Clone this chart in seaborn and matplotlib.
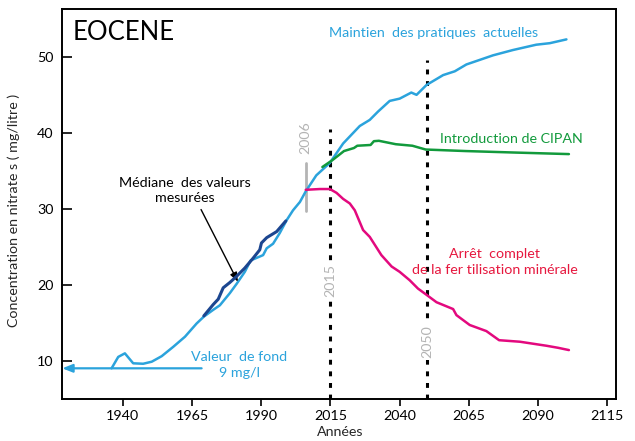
import matplotlib
matplotlib.use("Agg")
import matplotlib.pyplot as plt
import seaborn as sns
import pandas as pd

# Scenario curves: years and nitrate concentrations (mg/l)
years_current = [1936.0, 1938.4, 1940.8, 1943.8, 1947.4, 1950.5, 1954.1, 1958.3, 1962.5,
                 1966.7, 1969.3, 1972.7, 1975.1, 1978.7, 1981.1, 1984.1, 1986.2, 1990.7,
                 1992.0, 1994.3, 1996.7, 1999.2, 2001.5, 2004.0, 2006.1, 2009.9, 2014.7,
                 2019.6, 2025.6, 2029.2, 2032.2, 2036.4, 2040.0, 2044.2, 2046.1, 2049.7,
                 2055.7, 2059.9, 2064.1, 2073.7, 2080.9, 2089.3, 2094.2, 2100.2]
conc_current = [9.0, 10.5, 10.97, 9.66, 9.6, 9.87, 10.6, 11.84, 13.16,
                14.9, 15.8, 16.7, 17.3, 18.9, 20.1, 21.7, 23.2, 23.9,
                24.8, 25.4, 26.8, 28.5, 29.8, 30.9, 32.3, 34.4, 36.0,
                38.6, 40.9, 41.7, 42.8, 44.2, 44.5, 45.3, 45.0, 46.3,
                47.6, 48.1, 49.0, 50.2, 50.9, 51.6, 51.8, 52.3]

years_median = [1969.3, 1972.7, 1974.5, 1976.3, 1978.7, 1981.1, 1984.1, 1987.1,
                1989.5, 1990.1, 1992.0, 1995.6, 1998.9]
conc_median = [15.9, 17.4, 18.1, 19.6, 20.3, 21.1, 22.2, 23.5,
               24.6, 25.5, 26.2, 27.0, 28.4]

years_cipan = [2012.1, 2015.7, 2019.9, 2023.5, 2024.7, 2029.5, 2030.7, 2032.5,
               2038.6, 2044.6, 2049.4, 2063.8, 2081.9, 2101.1]
conc_cipan = [35.5, 36.4, 37.6, 38.0, 38.3, 38.4, 38.9, 38.95,
              38.5, 38.3, 37.8, 37.6, 37.4, 37.2]

years_stop = [2006.1, 2011.2, 2014.8, 2017.2, 2019.6, 2022.0, 2023.8, 2026.8, 2029.2,
              2033.4, 2037.1, 2040.0, 2043.6, 2046.6, 2049.6, 2053.3, 2059.3, 2060.5,
              2065.3, 2071.3, 2075.9, 2083.4, 2093.0, 2097.2, 2101.1]
conc_stop = [32.5, 32.6, 32.6, 32.1, 31.3, 30.7, 29.8, 27.2, 26.3,
             23.9, 22.4, 21.7, 20.6, 19.5, 18.7, 17.7, 16.8, 16.0,
             14.7, 13.9, 12.7, 12.5, 11.97, 11.7, 11.4]

background_value = 9
marker_years = [2015, 2050]
x_ticks = [1940, 1965, 1990, 2015, 2040, 2065, 2090, 2115]
y_ticks = [10, 20, 30, 40, 50]

C_BLUE = "#2ba3dc"
C_DARK = "#1c4690"
C_GREEN = "#129a3c"
C_MAGENTA = "#e3097e"
C_RED = "#e6183f"
C_GRAY = "#b4b4b4"

FS = 10.3

sns.set_theme(style="ticks")
plt.rcParams["font.family"] = ["Lato", "DejaVu Sans"]

fig = plt.figure(figsize=(6.35, 4.41), dpi=100)
ax = fig.add_axes([62 / 635, 1 - 399 / 441, (616 - 62) / 635, (399 - 9) / 441])

frames = {
    "current": pd.DataFrame({"year": years_current, "conc": conc_current}),
    "median": pd.DataFrame({"year": years_median, "conc": conc_median}),
    "cipan": pd.DataFrame({"year": years_cipan, "conc": conc_cipan}),
    "stop": pd.DataFrame({"year": years_stop, "conc": conc_stop}),
}

# vertical reference lines at 2015 and 2050
ax.plot([marker_years[0]] * 2, [5, 40.5], color="black", lw=2.2, ls=(0, (1.6, 2.2)), zorder=1)
ax.plot([marker_years[1]] * 2, [5, 49.6], color="black", lw=2.2, ls=(0, (1.6, 2.2)), zorder=1)
# 2006 marker
ax.plot([2006.1, 2006.1], [29.7, 36.0], color=C_GRAY, lw=2.0, zorder=1)

sns.lineplot(data=frames["current"], x="year", y="conc", ax=ax, color=C_BLUE, lw=1.8,
             sort=False, estimator=None, zorder=3)
sns.lineplot(data=frames["median"], x="year", y="conc", ax=ax, color=C_DARK, lw=2.2,
             sort=False, estimator=None, zorder=4)
sns.lineplot(data=frames["cipan"], x="year", y="conc", ax=ax, color=C_GREEN, lw=1.8,
             sort=False, estimator=None, zorder=3)
sns.lineplot(data=frames["stop"], x="year", y="conc", ax=ax, color=C_MAGENTA, lw=1.8,
             sort=False, estimator=None, zorder=3)

# background value arrow
ax.annotate("", xy=(1918.2, background_value), xytext=(1968.5, background_value),
            arrowprops=dict(arrowstyle="-|>,head_length=0.5,head_width=0.2",
                            color=C_BLUE, lw=1.6, shrinkA=0, shrinkB=0), zorder=3)

# year labels
ax.text(2015, 20.5, "2015", rotation=90, color=C_GRAY, fontsize=FS, ha="center", va="center",
        bbox=dict(facecolor="white", edgecolor="none", pad=1.5), zorder=2)
ax.text(2050, 12.5, "2050", rotation=90, color=C_GRAY, fontsize=FS, ha="center", va="center",
        bbox=dict(facecolor="white", edgecolor="none", pad=1.5), zorder=2)
ax.text(2006.1, 39.4, "2006", rotation=90, color=C_GRAY, fontsize=FS, ha="center", va="center")

# scenario labels
ax.text(0.02, 0.94, "EOCENE", transform=ax.transAxes, fontsize=18.5, ha="left", va="center",
        color="black")
ax.text(2052.3, 53.1, "Maintien  des pratiques  actuelles", color=C_BLUE, fontsize=FS,
        ha="center", va="center")
ax.text(2080.5, 39.2, "Introduction de CIPAN", color=C_GREEN, fontsize=FS,
        ha="center", va="center")
ax.text(2074.2, 23.0, "Arrêt  complet\nde la fer tilisation minérale", color=C_RED,
        fontsize=FS, ha="center", va="center", linespacing=1.35)
ax.text(1962.4, 32.4, "Médiane  des valeurs\nmesurées", color="black", fontsize=FS,
        ha="center", va="center", linespacing=1.35)
ax.text(1982.0, 9.45, "Valeur  de fond\n9 mg/l", color=C_BLUE, fontsize=FS,
        ha="center", va="center", linespacing=1.35)
ax.annotate("", xy=(1981.6, 20.4), xytext=(1968.3, 29.9),
            arrowprops=dict(arrowstyle="-|>,head_length=0.45,head_width=0.18",
                            color="black", lw=1.0, shrinkA=0, shrinkB=0))

ax.set_xlim(1918.1, 2118.1)
ax.set_ylim(4.96, 56.3)
ax.set_xticks(x_ticks)
ax.set_yticks(y_ticks)
ax.tick_params(axis="x", direction="out", length=5, width=1.2, labelsize=FS, pad=3, colors="black")
ax.tick_params(axis="y", direction="in", length=7, width=1.2, labelsize=FS, pad=6, colors="black")
for s in ax.spines.values():
    s.set_visible(True)
    s.set_color("black")
    s.set_linewidth(1.4)

ax.set_xlabel("Années", fontsize=FS, labelpad=1)
ax.xaxis.set_label_coords((340 - 62) / (616 - 62), -0.07)
ax.set_ylabel("Concentration en nitrate s ( mg/litre )", fontsize=FS)
ax.yaxis.set_label_coords(-0.075, (399 - 210) / 390)

fig.savefig("out.png", dpi=100, facecolor="white")
